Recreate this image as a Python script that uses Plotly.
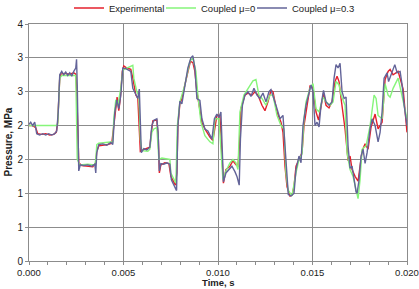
import plotly.graph_objects as go

# time values in milliseconds, pressures in MPa
t_exp_ms = [0, 0.196, 0.355, 0.461, 0.673, 0.885, 1.096, 1.308, 1.441, 1.520, 1.626, 1.679, 1.891, 2.156,
            2.368, 2.474, 2.527, 2.580, 2.633, 2.791, 3.109, 3.374, 3.533, 3.586, 3.692, 3.957, 4.169, 4.381,
            4.487, 4.592, 4.661, 4.751, 4.831, 4.937, 5.016, 5.175, 5.387, 5.493, 5.652, 5.758, 5.837, 5.890,
            6.023, 6.234, 6.393, 6.473, 6.552, 6.764, 6.843, 6.897, 6.976, 7.188, 7.400, 7.506, 7.612, 7.744,
            7.824, 7.877, 7.982, 8.088, 8.247, 8.406, 8.539, 8.671, 8.777, 8.883, 8.989, 9.148, 9.307, 9.572,
            9.731, 9.836, 9.942, 10.101, 10.181, 10.234, 10.287, 10.419, 10.631, 10.790, 10.949, 11.055, 11.134,
            11.214, 11.425, 11.584, 11.796, 11.955, 12.114, 12.326, 12.485, 12.644, 12.803, 12.909, 13.121,
            13.333, 13.438, 13.544, 13.650, 13.809, 13.915, 14.021, 14.127, 14.286, 14.445, 14.551, 14.710,
            14.868, 15.027, 15.186, 15.319, 15.451, 15.583, 15.716, 15.875, 16.034, 16.193, 16.299, 16.405,
            16.511, 16.722, 16.881, 16.987, 17.093, 17.252, 17.411, 17.517, 17.623, 17.782, 17.941, 18.100,
            18.311, 18.470, 18.682, 18.841, 19.000, 19.106, 19.265, 19.530, 19.795, 20.0]
p_exp = [2.00, 2.00, 1.97, 1.88, 1.87, 1.88, 1.86, 1.87, 1.90, 2.05, 2.70, 2.76, 2.77, 2.76,
         2.78, 2.76, 2.50, 1.80, 1.45, 1.41, 1.40, 1.39, 1.45, 1.62, 1.70, 1.71, 1.72, 1.74,
         2.00, 2.30, 2.42, 2.22, 2.40, 2.80, 2.88, 2.85, 2.83, 2.70, 2.45, 2.40, 2.00, 1.62,
         1.64, 1.66, 1.68, 1.90, 2.07, 2.08, 1.80, 1.30, 1.42, 1.45, 1.44, 1.25, 1.18, 1.12,
         1.30, 2.00, 2.32, 2.40, 2.60, 2.80, 2.95, 2.93, 2.80, 2.50, 2.30, 2.05, 1.95, 1.83,
         1.78, 2.00, 2.15, 2.15, 1.70, 1.30, 1.15, 1.35, 1.40, 1.48, 1.42, 1.40, 1.70,
         2.25, 2.45, 2.48, 2.45, 2.50, 2.45, 2.30, 2.22, 2.35, 2.52, 2.50, 2.20,
         2.05, 1.90, 1.40, 1.10, 0.96, 0.97, 1.10, 1.40, 1.50, 1.60, 2.00, 2.30,
         2.58, 2.55, 2.20, 2.08, 2.30, 2.48, 2.30, 2.26, 2.35, 2.65, 2.73, 2.65,
         2.40, 1.95, 1.48, 1.55, 1.35, 1.25, 1.18, 1.40, 1.62, 1.73, 1.65, 1.98,
         2.17, 1.95, 2.05, 2.68, 2.80, 2.83, 2.75, 2.80, 2.54, 1.90]

t_mu0_ms = [0, 1.467, 1.520, 1.626, 1.732, 2.156, 2.474, 2.553, 2.686, 3.109, 3.480, 3.533, 3.586, 3.692,
            4.063, 4.434, 4.487, 4.592, 4.698, 4.857, 4.963, 5.175, 5.493, 5.546, 5.705, 5.811, 5.890,
            5.970, 6.287, 6.393, 6.499, 6.605, 6.764, 6.870, 7.029, 7.241, 7.453, 7.506, 7.665, 7.771,
            7.850, 7.982, 8.247, 8.512, 8.671, 8.830, 8.936, 9.095, 9.307, 9.572, 9.731, 9.836, 10.048,
            10.154, 10.260, 10.419, 10.631, 10.790, 10.949, 11.055, 11.160, 11.372, 11.584, 11.849, 12.008,
            12.167, 12.326, 12.538, 12.750, 12.909, 13.121, 13.333, 13.491, 13.597, 13.703, 13.915, 14.127,
            14.286, 14.445, 14.551, 14.657, 14.868, 15.027, 15.186, 15.345, 15.557, 15.716, 15.928, 16.087,
            16.246, 16.405, 16.511, 16.722, 16.828, 16.987, 17.146, 17.305, 17.411, 17.517, 17.623, 17.835,
            18.047, 18.258, 18.364, 18.470, 18.682, 18.841, 19.000, 19.106, 19.265, 19.530, 19.742, 20.0]
p_mu0 = [2.00, 2.00, 2.02, 2.70, 2.74, 2.74, 2.74, 1.50, 1.42, 1.43, 1.42, 1.50, 1.72, 1.74,
         1.75, 1.76, 2.10, 2.38, 2.30, 2.55, 2.82, 2.85, 2.89, 2.70, 2.50, 2.45, 1.80,
         1.63, 1.62, 1.65, 1.90, 1.95, 1.97, 1.50, 1.52, 1.51, 1.50, 1.30, 1.20, 1.15,
         2.00, 2.35, 2.60, 2.95, 3.00, 2.80, 2.45, 2.05, 1.85, 1.76, 1.73, 2.10, 2.10,
         1.60, 1.20, 1.33, 1.45, 1.50, 1.45, 1.35, 2.20, 2.45, 2.55, 2.66, 2.68,
         2.45, 2.40, 2.30, 2.45, 2.45, 2.15, 2.00, 1.95, 1.30, 1.05, 0.96, 1.30,
         1.50, 1.58, 2.10, 2.35, 2.55, 2.62, 2.25, 2.20, 2.42, 2.35, 2.30, 2.35,
         2.65, 2.60, 2.45, 2.30, 1.60, 1.35, 1.25, 1.05, 0.92, 1.20, 1.65, 1.70,
         2.00, 2.45, 2.40, 2.15, 2.10, 2.62, 2.45, 2.42, 2.55, 2.70, 2.45, 2.10]

t_mu03_ms = [0, 0.090, 0.196, 0.302, 0.408, 0.567, 0.726, 0.885, 1.043, 1.202, 1.361, 1.467, 1.547, 1.626,
             1.732, 1.838, 1.944, 2.050, 2.156, 2.262, 2.368, 2.474, 2.516, 2.553, 2.633, 2.712, 2.897,
             3.109, 3.321, 3.480, 3.533, 3.586, 3.692, 3.904, 4.116, 4.328, 4.434, 4.539, 4.645, 4.751,
             4.857, 4.963, 5.122, 5.281, 5.387, 5.493, 5.652, 5.758, 5.837, 5.890, 5.943, 6.075, 6.234,
             6.393, 6.499, 6.605, 6.764, 6.833, 6.897, 6.976, 7.135, 7.294, 7.453, 7.532, 7.665, 7.808,
             7.877, 7.982, 8.088, 8.247, 8.406, 8.565, 8.671, 8.777, 8.883, 9.042, 9.148, 9.307, 9.466,
             9.678, 9.810, 9.942, 10.048, 10.154, 10.234, 10.287, 10.419, 10.578, 10.737, 10.896, 11.002,
             11.123, 11.187, 11.292, 11.425, 11.584, 11.743, 11.902, 12.061, 12.220, 12.379, 12.538, 12.697,
             12.803, 12.962, 13.121, 13.280, 13.438, 13.544, 13.650, 13.719, 13.862, 14.021, 14.127, 14.286,
             14.392, 14.498, 14.657, 14.815, 14.921, 15.027, 15.133, 15.239, 15.345, 15.451, 15.583, 15.716,
             15.875, 16.034, 16.140, 16.246, 16.352, 16.458, 16.564, 16.670, 16.775, 16.881, 16.987, 17.093,
             17.199, 17.305, 17.358, 17.464, 17.570, 17.676, 17.782, 17.888, 18.047, 18.153, 18.311, 18.470,
             18.576, 18.682, 18.788, 18.947, 19.026, 19.159, 19.355, 19.477, 19.636, 19.742, 19.848, 20.0]
p_mu03 = [2.02, 2.05, 2.00, 2.05, 1.88, 1.86, 1.88, 1.86, 1.88, 1.86, 1.88, 1.92, 2.20, 2.75,
          2.80, 2.75, 2.79, 2.74, 2.78, 2.73, 2.80, 2.85, 2.98, 2.60, 1.33, 1.42, 1.41,
          1.42, 1.40, 1.43, 1.30, 1.60, 1.72, 1.73, 1.71, 1.75, 1.72, 2.20, 2.38, 2.25,
          2.45, 2.85, 2.84, 2.82, 2.80, 2.55, 2.45, 2.40, 2.54, 2.10, 1.60, 1.66, 1.64,
          1.68, 2.00, 2.08, 2.10, 1.90, 1.33, 1.44, 1.43, 1.45, 1.43, 1.20, 1.12, 1.04,
          2.00, 2.36, 2.32, 2.60, 2.85, 3.00, 3.03, 2.85, 2.40, 2.37, 2.10, 1.95, 1.92,
          1.80, 2.10, 2.17, 2.12, 2.20, 1.40, 1.17, 1.30, 1.35, 1.40, 1.32, 1.25,
          1.12, 1.80, 2.30, 2.45, 2.50, 2.43, 2.55, 2.45, 2.40, 2.48, 2.35, 2.50,
          2.53, 2.40, 2.25, 2.10, 2.15, 1.70, 1.20, 0.98, 0.96, 1.00, 1.35, 1.55,
          1.45, 2.00, 2.30, 2.50, 2.60, 2.50, 2.00, 2.05, 1.98, 2.30, 2.52, 2.35,
          2.30, 2.35, 2.70, 2.90, 2.85, 2.92, 2.50, 2.40, 2.42, 1.70, 1.37, 1.40,
          1.20, 1.02, 1.00, 1.20, 1.55, 1.65, 1.44, 1.60, 1.95, 2.10, 2.00, 1.76,
          1.90, 2.20, 2.70, 2.78, 2.65, 2.75, 2.90, 2.78, 2.80, 2.60, 2.30, 2.00]

series_names = ["Experimental", "Coupled μ=0", "Coupled μ=0.3"]
y_tick_vals = [0, 0.5, 1.0, 1.5, 2.0, 2.5, 3.0, 3.5]
y_tick_text = ["0", "1", "1", "2", "2", "3", "3", "4"]
x_tick_vals = [0, 0.005, 0.010, 0.015, 0.020]
x_tick_text = ["0.000", "0.005", "0.010", "0.015", "0.020"]

colors = ["#e4202c", "#86f57a", "#636499"]
legend_ids = ["legend", "legend2", "legend3"]
legend_left_px = [69, 161, 252]

W, H = 419, 289
fig = go.Figure()
for name, tms, p, c, lg in zip(series_names, [t_exp_ms, t_mu0_ms, t_mu03_ms], [p_exp, p_mu0, p_mu03],
                               colors, legend_ids):
    fig.add_trace(go.Scatter(x=[v / 1000.0 for v in tms], y=p, mode="lines", name=name,
                             line=dict(color=c, width=1.4), legend=lg))

font = "Liberation Sans, Arial, sans-serif"


def legend_box(xpx):
    return dict(orientation="h", xref="container", yref="container",
                x=xpx / W, xanchor="left", y=1 - 8 / H, yanchor="middle",
                font=dict(size=9.5, color="#222"), bgcolor="rgba(0,0,0,0)", borderwidth=0)


layout_legends = {lg: legend_box(xp) for lg, xp in zip(legend_ids, legend_left_px)}

fig.update_layout(
    width=W, height=H,
    margin=dict(l=29, r=12, t=24, b=28, autoexpand=False),
    paper_bgcolor="white", plot_bgcolor="white",
    font=dict(family=font, size=10, color="#222"),
    showlegend=True,
    xaxis=dict(range=[0, 0.020], tickvals=x_tick_vals, ticktext=x_tick_text, automargin=False,
               ticklabeloverflow="allow", ticklabelstandoff=0, tickfont=dict(size=9.5),
               showgrid=True, gridcolor="#8c8c8c", gridwidth=1,
               showline=True, linecolor="#8c8c8c", linewidth=1, mirror=True,
               ticks="outside", ticklen=3, tickcolor="#8c8c8c",
               minor=dict(dtick=0.001, tick0=0, ticks="outside", ticklen=3, tickcolor="#8c8c8c", showgrid=False),
               zeroline=False),
    yaxis=dict(range=[0, 3.5], tickvals=y_tick_vals, ticktext=y_tick_text, automargin=False,
               ticklabeloverflow="allow",
               showgrid=True, gridcolor="#8c8c8c", gridwidth=1,
               showline=True, linecolor="#8c8c8c", linewidth=1, mirror=True,
               ticks="outside", ticklen=3, tickcolor="#8c8c8c", zeroline=False),
    annotations=[
        dict(text="<b>Time, s</b>", xref="paper", yref="paper", x=0.5, y=0, yshift=-28,
             xanchor="center", yanchor="bottom", showarrow=False, borderpad=0,
             font=dict(size=9.5, color="#222")),
        dict(text="<b>Pressure, MPa</b>", xref="paper", yref="paper", x=0, y=0.5, xshift=-21,
             xanchor="center", yanchor="middle", textangle=-90, showarrow=False, borderpad=0,
             font=dict(size=10, color="#222")),
    ],
    **layout_legends,
)

fig.write_html("out.html")
